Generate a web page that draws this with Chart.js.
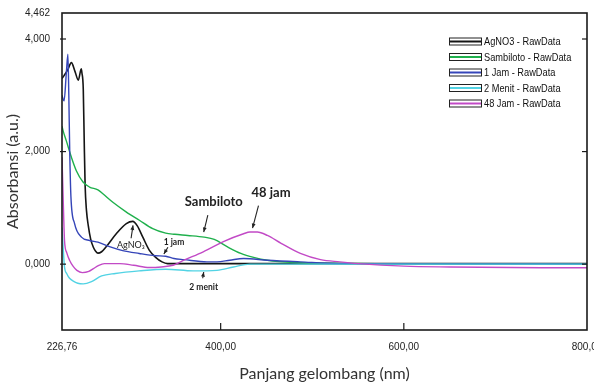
<!DOCTYPE html>
<html>
<head>
<meta charset="utf-8">
<script src="https://cdn.jsdelivr.net/npm/chart.js@4.4.1/dist/chart.umd.min.js"></script>
<style>
  html, body { margin: 0; padding: 0; background: #fff; }
  #wrap { width: 594px; height: 385px; }
</style>
</head>
<body>
<div id="wrap"><canvas id="uvChart" width="594" height="385"></canvas></div>
<script>
// UV-Vis spectra (nm, absorbance)

const xTicks = [226.76, 400, 600, 800];
const yTicks = [0, 2, 4, 4.462];

const agno3Nm  = [226.76, 229, 233, 237, 241, 244.6, 247.8, 248.5, 250, 251, 252, 253.5, 255.5, 258, 261, 263.5, 266, 270, 275, 286, 297, 304, 309, 315, 322, 329, 336, 342, 360, 450, 600, 800];
const agno3Abs = [3.30, 3.35, 3.45, 3.58, 3.42, 3.27, 3.47, 3.40, 3.10, 2.20, 1.40, 0.95, 0.68, 0.45, 0.30, 0.23, 0.195, 0.22, 0.31, 0.54, 0.72, 0.76, 0.68, 0.48, 0.25, 0.12, 0.04, 0.01, 0.01, 0.01, 0.01, 0.01];

const samNm  = [226.76, 228.3, 231.5, 237, 242.4, 249.7, 256.8, 266, 271.4, 282.3, 296.7, 311.2, 325.8, 340, 350, 364, 382, 393, 407, 422, 436, 451, 480, 520, 600, 800];
const samAbs = [2.45, 2.35, 2.19, 1.90, 1.66, 1.46, 1.37, 1.32, 1.25, 1.10, 0.93, 0.78, 0.63, 0.55, 0.53, 0.51, 0.48, 0.44, 0.31, 0.19, 0.12, 0.07, 0.03, 0.015, 0.005, 0.0];

const jam1Nm  = [226.76, 229, 231.5, 233.2, 234.2, 235.2, 236.5, 240.5, 248, 257, 266, 278.6, 293, 311, 329, 340, 349, 360, 385, 396, 410, 425, 451, 487, 530, 650, 800];
const jam1Abs = [3.0, 2.9, 3.4, 3.73, 3.0, 2.0, 1.2, 0.72, 0.48, 0.42, 0.39, 0.31, 0.24, 0.19, 0.15, 0.14, 0.10, 0.08, 0.04, 0.04, 0.07, 0.10, 0.07, 0.04, 0.01, 0.005, 0.0];

const menit2Nm  = [226.76, 228, 229.5, 232, 235, 240, 244, 250, 259, 270, 285, 311, 340, 370, 396, 414, 432, 460, 800];
const menit2Abs = [0.65, 0.30, -0.05, -0.17, -0.25, -0.31, -0.34, -0.35, -0.31, -0.21, -0.165, -0.12, -0.09, -0.12, -0.11, -0.05, 0.0, 0.0, 0.0];

const jam48Nm  = [226.76, 228.5, 229.5, 232, 235, 239, 243, 249, 256, 261, 267, 273, 290, 305, 322, 335, 348, 360, 381, 403, 425, 432, 440, 451, 466, 487, 509, 530, 550, 600, 650, 750, 800];
const jam48Abs = [1.9, 0.9, 0.42, 0.2, 0.07, -0.04, -0.11, -0.15, -0.13, -0.08, -0.02, 0.01, 0.01, -0.02, -0.06, -0.05, -0.02, 0.07, 0.22, 0.40, 0.54, 0.57, 0.57, 0.51, 0.37, 0.19, 0.08, 0.04, 0.01, -0.035, -0.05, -0.065, -0.065];

const seriesLabels = ['AgNO3 - RawData', 'Sambiloto - RawData', '1 Jam - RawData', '2 Menit - RawData', '48 Jam - RawData'];
const seriesColors = ['#151515', '#1fb04c', '#3545b8', '#52d3e4', '#c24ac6'];

// Text notes on the plot, placed in data units
const notes = [
  { text: 'Sambiloto', x: 392.5, y: 1.10, font: 'bold 13px Lato, sans-serif', from: [386, 0.87], to: [381.5, 0.57] },
  { text: '48 jam', x: 455, y: 1.26, font: 'bold 13px Lato, sans-serif', from: [441.3, 1.04], to: [434.8, 0.64] },
  { text: 'AgNO\u2083', x: 302, y: 0.34, font: '9px Lato, sans-serif', from: [302.2, 0.46], to: [304.3, 0.69] },
  { text: '1 jam', x: 349, y: 0.39, font: 'bold 8.5px Lato, sans-serif', from: [342.4, 0.30], to: [338, 0.18] },
  { text: '2 menit', x: 381.5, y: -0.41, font: 'bold 8.5px Lato, sans-serif', from: [380.4, -0.25], to: [381.5, -0.14] },
];

const SANS = '"Liberation Sans", Arial, sans-serif';

function toPoints(xs, ys) {
  return xs.map((v, i) => ({ x: v, y: ys[i] }));
}

function fmtComma(v, digits) {
  return v.toFixed(digits).replace('.', ',');
}

function drawLine(ctx, x1, y1, x2, y2) {
  ctx.beginPath();
  ctx.moveTo(x1, y1);
  ctx.lineTo(x2, y2);
  ctx.stroke();
}

// Frame + small tick marks like the original plot
const frameTicks = {
  id: 'frameTicks',
  afterDatasetsDraw(chart) {
    const { ctx, chartArea: a, scales: { x, y } } = chart;
    ctx.save();
    ctx.strokeStyle = '#1a1a1a';
    ctx.lineWidth = 1.6;
    ctx.strokeRect(a.left, a.top, a.right - a.left, a.bottom - a.top);
    ctx.lineWidth = 1.2;
    yTicks.slice(0, 3).forEach(v => {
      const py = y.getPixelForValue(v);
      drawLine(ctx, a.left - 2, py, a.left + 4, py);
      drawLine(ctx, a.right - 5, py, a.right, py);
    });
    [400, 600].forEach(v => {
      const px = x.getPixelForValue(v);
      drawLine(ctx, px, a.bottom, px, a.bottom - 7);
    });
    ctx.restore();
  }
};

// Legend: outlined box with coloured line inside, squeezed text
const boxLegend = {
  id: 'boxLegend',
  afterDraw(chart) {
    const ctx = chart.ctx;
    ctx.save();
    ctx.textBaseline = 'middle';
    seriesLabels.forEach((lbl, i) => {
      const cy = 41.5 + i * 15.5;
      ctx.fillStyle = '#fff';
      ctx.fillRect(449.5, cy - 3.5, 32, 7);
      ctx.strokeStyle = '#222';
      ctx.lineWidth = 1;
      ctx.strokeRect(449.5, cy - 3.5, 32, 7);
      ctx.strokeStyle = seriesColors[i];
      ctx.lineWidth = 2;
      drawLine(ctx, 450, cy, 481, cy);
      ctx.save();
      ctx.translate(484, cy + 0.5);
      ctx.scale(0.84, 1);
      ctx.font = '11px ' + SANS;
      ctx.fillStyle = '#111';
      ctx.fillText(lbl, 0, 0);
      ctx.restore();
    });
    ctx.restore();
  }
};

// Notes with arrows
const arrowNotes = {
  id: 'arrowNotes',
  afterDraw(chart) {
    const { ctx, scales: { x, y } } = chart;
    ctx.save();
    ctx.fillStyle = '#222';
    ctx.strokeStyle = '#222';
    ctx.textAlign = 'center';
    ctx.textBaseline = 'middle';
    notes.forEach(n => {
      ctx.font = n.font;
      ctx.fillText(n.text, x.getPixelForValue(n.x), y.getPixelForValue(n.y));
      const x1 = x.getPixelForValue(n.from[0]), y1 = y.getPixelForValue(n.from[1]);
      const x2 = x.getPixelForValue(n.to[0]), y2 = y.getPixelForValue(n.to[1]);
      ctx.lineWidth = 1.1;
      drawLine(ctx, x1, y1, x2, y2);
      const ang = Math.atan2(y2 - y1, x2 - x1);
      const len = 5;
      ctx.beginPath();
      ctx.moveTo(x2, y2);
      ctx.lineTo(x2 - len * Math.cos(ang - 0.4), y2 - len * Math.sin(ang - 0.4));
      ctx.lineTo(x2 - len * Math.cos(ang + 0.4), y2 - len * Math.sin(ang + 0.4));
      ctx.closePath();
      ctx.fill();
    });
    ctx.restore();
  }
};

const allSeries = [
  toPoints(agno3Nm, agno3Abs),
  toPoints(samNm, samAbs),
  toPoints(jam1Nm, jam1Abs),
  toPoints(menit2Nm, menit2Abs),
  toPoints(jam48Nm, jam48Abs),
];

new Chart(document.getElementById('uvChart'), {
  type: 'line',
  data: {
    datasets: allSeries.map((pts, i) => ({
      label: seriesLabels[i],
      data: pts,
      borderColor: seriesColors[i],
      borderWidth: i === 0 ? 1.6 : 1.4,
      pointRadius: 0,
      fill: false,
      cubicInterpolationMode: 'monotone',
    })).reverse()
  },
  options: {
    responsive: false,
    animation: false,
    events: [],
    layout: { padding: { top: 13, right: 7, left: 0, bottom: 0 } },
    plugins: { legend: { display: false }, tooltip: { enabled: false } },
    scales: {
      x: {
        type: 'linear',
        min: 226.76,
        max: 800,
        grid: { display: false },
        border: { display: false },
        afterBuildTicks: s => { s.ticks = xTicks.map(v => ({ value: v })); },
        afterFit: s => { s.height = 55; s.paddingLeft = 0; s.paddingRight = 0; },
        ticks: {
          autoSkip: false, maxRotation: 0, padding: 3, color: '#222',
          font: { family: SANS, size: 10 },
          callback: v => fmtComma(v, 2)
        },
        title: {
          display: true, text: 'Panjang gelombang (nm)', color: '#333',
          font: { family: 'Lato, sans-serif', size: 16 },
          padding: { top: 0, bottom: 2 }
        }
      },
      y: {
        type: 'linear',
        min: -1.17,
        max: 4.462,
        grid: { display: false },
        border: { display: false },
        afterBuildTicks: s => { s.ticks = yTicks.map(v => ({ value: v })); },
        afterFit: s => { s.width = 62; s.paddingTop = 0; s.paddingBottom = 0; },
        ticks: {
          autoSkip: false, padding: 4, color: '#222',
          font: { family: SANS, size: 10 },
          callback: v => fmtComma(v, 3)
        },
        title: {
          display: true, text: 'Absorbansi (a.u.)', color: '#333',
          font: { family: 'Lato, sans-serif', size: 16 },
          padding: { top: 3, bottom: 0 }
        }
      }
    }
  },
  plugins: [frameTicks, arrowNotes, boxLegend]
});
</script>
</body>
</html>
